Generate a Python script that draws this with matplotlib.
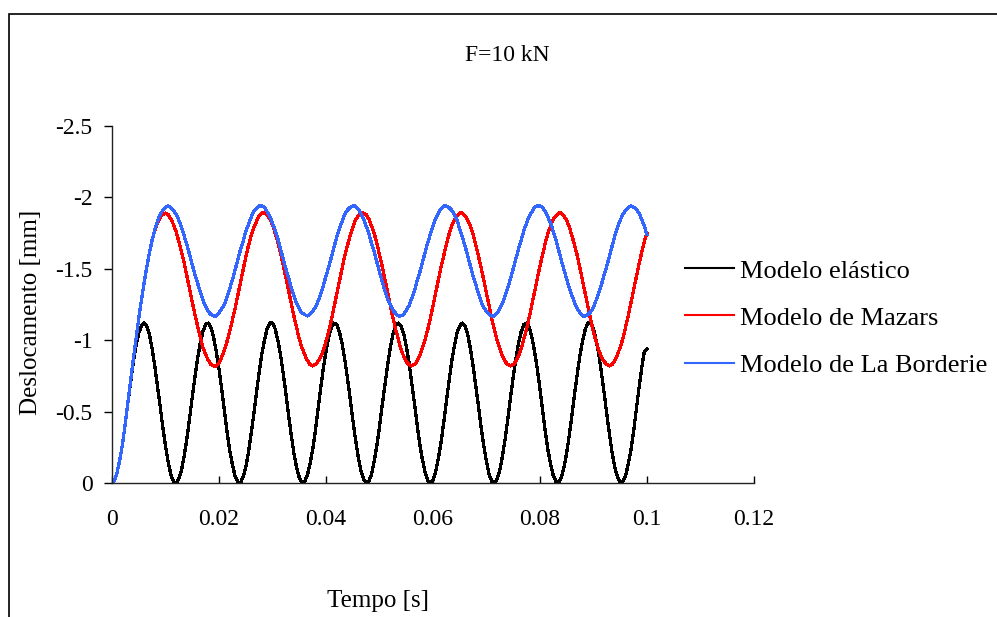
import numpy as np
import matplotlib
matplotlib.use("Agg")
import matplotlib.pyplot as plt
from matplotlib.patches import Rectangle

plt.rcParams['font.family'] = ['Liberation Serif', 'DejaVu Serif']
plt.rcParams['axes.unicode_minus'] = False

# time step of the stored results [s]
dt = 0.0005

# displacement magnitudes [mm], one value every dt (plotted as negative values)
elastico = [
    0.00, 0.02, 0.08, 0.17, 0.28, 0.42, 0.57, 0.71, 0.85, 0.96, 1.05, 1.10, 1.12, 1.10, 1.04, 0.94, 0.82, 0.68, 0.54, 0.39, 0.26, 0.15, 0.06, 0.01,
    0.00, 0.03, 0.09, 0.19, 0.31, 0.45, 0.60, 0.74, 0.87, 0.98, 1.06, 1.11, 1.12, 1.09, 1.02, 0.92, 0.80, 0.66, 0.51, 0.36, 0.23, 0.13, 0.05, 0.01,
    0.00, 0.04, 0.11, 0.21, 0.34, 0.48, 0.63, 0.77, 0.90, 1.00, 1.08, 1.12, 1.12, 1.08, 1.00, 0.90, 0.77, 0.63, 0.48, 0.34, 0.21, 0.11, 0.04, 0.00,
    0.01, 0.05, 0.13, 0.23, 0.36, 0.51, 0.66, 0.80, 0.92, 1.02, 1.09, 1.12, 1.11, 1.06, 0.98, 0.87, 0.74, 0.60, 0.45, 0.31, 0.19, 0.09, 0.03, 0.00,
    0.01, 0.06, 0.15, 0.26, 0.39, 0.54, 0.68, 0.82, 0.94, 1.04, 1.10, 1.12, 1.10, 1.05, 0.96, 0.85, 0.71, 0.57, 0.42, 0.28, 0.17, 0.08, 0.02,
    0.00, 0.02, 0.08, 0.17, 0.28, 0.42, 0.57, 0.71, 0.85, 0.96, 1.05, 1.10, 1.12, 1.10, 1.04, 0.94, 0.82, 0.68, 0.54, 0.39, 0.26, 0.15, 0.06, 0.01,
    0.00, 0.03, 0.09, 0.19, 0.31, 0.45, 0.60, 0.74, 0.87, 0.98, 1.06, 1.11, 1.12, 1.09, 1.02, 0.92, 0.80, 0.66, 0.51, 0.36, 0.23, 0.13, 0.05, 0.01,
    0.00, 0.04, 0.11, 0.21, 0.34, 0.48, 0.63, 0.77, 0.90, 1.00, 1.08, 1.12, 1.12, 1.08, 1.00, 0.90, 0.77, 0.63, 0.48, 0.34, 0.21, 0.11, 0.04, 0.00,
    0.01, 0.05, 0.13, 0.23, 0.36, 0.51, 0.66, 0.80, 0.92, 0.94,
]

mazars = [
    0.00, 0.02, 0.08, 0.17, 0.28, 0.42, 0.57, 0.72, 0.87, 1.01, 1.15, 1.28, 1.40, 1.51, 1.61, 1.70, 1.77, 1.82, 1.86, 1.88,
    1.89, 1.88, 1.85, 1.81, 1.76, 1.69, 1.62, 1.54, 1.45, 1.36,
    1.27, 1.18, 1.10, 1.02, 0.95, 0.90, 0.86, 0.83, 0.82, 0.82,
    0.84, 0.88, 0.93, 0.99, 1.06, 1.14, 1.22, 1.31, 1.40, 1.49,
    1.58, 1.66, 1.73, 1.79, 1.83, 1.87, 1.89, 1.89, 1.88, 1.85,
    1.81, 1.75, 1.69, 1.61, 1.53, 1.44, 1.35, 1.26, 1.17, 1.09,
    1.01, 0.95, 0.90, 0.86, 0.83, 0.82, 0.83, 0.85, 0.88, 0.93,
    0.99, 1.06, 1.14, 1.23, 1.32, 1.41, 1.50, 1.59, 1.66, 1.73,
    1.79, 1.84, 1.87, 1.89, 1.89, 1.88, 1.85, 1.80, 1.75, 1.68,
    1.60, 1.52, 1.43, 1.34, 1.25, 1.16, 1.08, 1.01, 0.94, 0.89,
    0.85, 0.83, 0.82, 0.83, 0.85, 0.89, 0.94, 1.00, 1.07, 1.15,
    1.24, 1.33, 1.42, 1.51, 1.59, 1.67, 1.74, 1.80, 1.84, 1.87,
    1.89, 1.89, 1.87, 1.84, 1.80, 1.74, 1.67, 1.59, 1.51, 1.42,
    1.33, 1.24, 1.15, 1.07, 1.00, 0.94, 0.89, 0.85, 0.83, 0.82,
    0.83, 0.85, 0.89, 0.94, 1.01, 1.08, 1.16, 1.25, 1.34, 1.43,
    1.52, 1.60, 1.68, 1.75, 1.80, 1.85, 1.87, 1.89, 1.89, 1.87,
    1.84, 1.79, 1.73, 1.66, 1.59, 1.50, 1.41, 1.32, 1.23, 1.14,
    1.06, 0.99, 0.93, 0.88, 0.85, 0.83, 0.82, 0.83, 0.86, 0.90,
    0.95, 1.01, 1.09, 1.17, 1.26, 1.35, 1.44, 1.53, 1.61, 1.69,
    1.75,
]

la_borderie = [
    0.00, 0.02, 0.08, 0.17, 0.28, 0.42, 0.57, 0.72, 0.87, 1.01, 1.15, 1.28, 1.40, 1.51, 1.61, 1.70, 1.77,
    1.83, 1.88, 1.91, 1.93,
    1.94, 1.93, 1.91, 1.88, 1.84, 1.79, 1.73, 1.67, 1.60, 1.53,
    1.46, 1.40, 1.34, 1.28, 1.24, 1.20, 1.18, 1.17, 1.17, 1.19,
    1.22, 1.25, 1.30, 1.36, 1.42, 1.49, 1.56, 1.63, 1.69, 1.76,
    1.81, 1.86, 1.90, 1.92, 1.94, 1.94, 1.93, 1.90, 1.87, 1.82,
    1.77, 1.71, 1.64, 1.57, 1.50, 1.44, 1.37, 1.31, 1.26, 1.22,
    1.19, 1.18, 1.17, 1.18, 1.20, 1.23, 1.27, 1.32, 1.38, 1.45,
    1.51, 1.58, 1.65, 1.72, 1.78, 1.83, 1.88, 1.91, 1.93, 1.94,
    1.94, 1.92, 1.89, 1.85, 1.80, 1.75, 1.68, 1.62, 1.55, 1.48,
    1.41, 1.35, 1.29, 1.25, 1.21, 1.19, 1.17, 1.17, 1.18, 1.21,
    1.24, 1.29, 1.34, 1.41, 1.47, 1.54, 1.61, 1.68, 1.74, 1.80,
    1.85, 1.89, 1.92, 1.94, 1.94, 1.93, 1.91, 1.88, 1.84, 1.78,
    1.72, 1.66, 1.59, 1.52, 1.45, 1.39, 1.33, 1.27, 1.23, 1.20,
    1.18, 1.17, 1.17, 1.19, 1.22, 1.26, 1.31, 1.37, 1.43, 1.50,
    1.57, 1.64, 1.70, 1.77, 1.82, 1.87, 1.90, 1.93, 1.94, 1.94,
    1.93, 1.90, 1.86, 1.82, 1.76, 1.70, 1.63, 1.56, 1.49, 1.43,
    1.36, 1.31, 1.26, 1.22, 1.19, 1.17, 1.17, 1.18, 1.20, 1.23,
    1.28, 1.33, 1.39, 1.46, 1.52, 1.59, 1.66, 1.73, 1.79, 1.84,
    1.88, 1.91, 1.93, 1.94, 1.93, 1.92, 1.89, 1.85, 1.80, 1.74,
]

series_names = ["Modelo elástico", "Modelo de Mazars", "Modelo de La Borderie"]
series_colors = ["#000000", "#FF0000", "#3366FF"]

x_ticks = [0, 0.02, 0.04, 0.06, 0.08, 0.1, 0.12]
x_tick_labels = ["0", "0.02", "0.04", "0.06", "0.08", "0.1", "0.12"]
y_ticks = [0, -0.5, -1, -1.5, -2, -2.5]
y_tick_labels = ["0", "-0.5", "-1", "-1.5", "-2", "-2.5"]

tempo = np.arange(len(elastico)) * dt

fig = plt.figure(figsize=(9.97, 6.17), dpi=100)
ax = fig.add_axes([0.1123, 0.2172, 0.6439, 0.5786])

for vals, name, col in zip([elastico, mazars, la_borderie], series_names, series_colors):
    ax.plot(tempo, -np.array(vals), color=col, lw=1.6, antialiased=False, label=name)

ax.set_xlim(0, 0.12)
ax.set_ylim(0, -2.5)
ax.set_xticks(x_ticks)
ax.set_xticklabels(x_tick_labels)
ax.set_yticks(y_ticks)
ax.set_yticklabels(y_tick_labels)

for s in ['top', 'right']:
    ax.spines[s].set_visible(False)
for s in ['left', 'bottom']:
    ax.spines[s].set_linewidth(1.0)
    ax.spines[s].set_color('#222222')

ax.tick_params(axis='x', direction='in', length=5, width=1, pad=19, labelsize=17)
ax.tick_params(axis='y', direction='out', length=6, width=1, pad=8, labelsize=17)

fig.text(507 / 997, 1 - 61 / 617, "F=10 kN", ha='center', va='baseline', fontsize=17)
fig.text(31 / 997, 1 - 312 / 617, "Deslocamento [mm]", ha='center', va='center',
         rotation=90, fontsize=18)
fig.text(378 / 997, 1 - 607 / 617, "Tempo [s]", ha='center', va='baseline', fontsize=18)

leg = ax.legend(loc='center left', bbox_to_anchor=(685 / 997, 1 - 318 / 617),
                bbox_transform=fig.transFigure, frameon=False, fontsize=19,
                borderpad=0, borderaxespad=0, handlelength=1.85, handletextpad=0.25,
                labelspacing=0.9)
for ln in leg.get_lines():
    ln.set_antialiased(True)
    ln.set_linewidth(1.5)

# outer chart frame (cut at the right and bottom edges of the image)
fig.add_artist(Rectangle((9 / 997, -0.1), 1.2, 1.1 - 14 / 617, transform=fig.transFigure,
                         fill=False, edgecolor='black', lw=1.2))

fig.savefig("out.png", dpi=100)
